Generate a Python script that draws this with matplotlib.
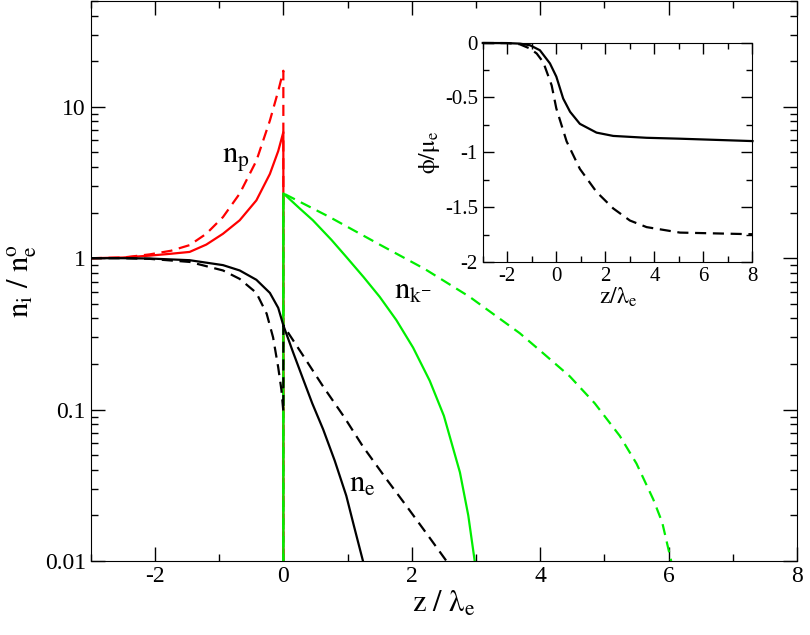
import matplotlib
matplotlib.use("Agg")
import matplotlib.pyplot as plt
from matplotlib.ticker import MultipleLocator, LogLocator, NullFormatter, FixedLocator

plt.rcParams['font.family'] = ['Liberation Serif', 'DejaVu Serif']
plt.rcParams['mathtext.fontset'] = 'stix'
plt.rcParams['axes.unicode_minus'] = False

# positive ions n_p (x <= 0), then drops to zero for x > 0
np_x_solid = [-3, -2.5, -2.08, -1.75, -1.46, -1.2, -0.94, -0.68, -0.42, -0.21, -0.08, 0, 0]
np_y_solid = [1.0, 1.01, 1.04, 1.07, 1.10, 1.23, 1.45, 1.78, 2.41, 3.6, 5.1, 6.8, 1e-4]
np_x_dash = [-3, -2.5, -2.08, -1.75, -1.46, -1.2, -0.94, -0.68, -0.42, -0.21, -0.08, 0, 0]
np_y_dash = [1.0, 1.01, 1.06, 1.12, 1.22, 1.45, 1.87, 2.67, 4.4, 8.1, 12.7, 17.3, 1e-4]

# electrons n_e
ne_x_solid = [-3, -2.5, -2.08, -1.46, -0.94, -0.68, -0.42, -0.21, -0.08, 0,
              0.15, 0.31, 0.45, 0.62, 0.8, 0.98, 1.1, 1.24]
ne_y_solid = [1.0, 1.0, 0.995, 0.97, 0.90, 0.83, 0.72, 0.59, 0.47, 0.36,
              0.24, 0.158, 0.11, 0.074, 0.046, 0.027, 0.017, 0.01]
ne_x_dash = [-3, -2.5, -2.08, -1.46, -0.94, -0.68, -0.42, -0.26, -0.16, -0.08, -0.03, 0,
             0, 0.3, 0.62, 0.95, 1.24, 1.6, 1.92, 2.25, 2.54]
ne_y_dash = [1.0, 1.0, 0.99, 0.945, 0.83, 0.73, 0.59, 0.43, 0.30, 0.19, 0.135, 0.097,
             0.36, 0.23, 0.142, 0.089, 0.057, 0.035, 0.023, 0.0148, 0.01]

# negative ions n_k- (zero for x < 0)
nk_x_solid = [0, 0, 0.25, 0.46, 0.75, 0.98, 1.25, 1.5, 1.76, 2.02, 2.28, 2.5, 2.75, 2.88, 2.98]
nk_y_solid = [1e-4, 2.68, 2.14, 1.78, 1.32, 1.02, 0.75, 0.556, 0.39, 0.257, 0.155, 0.091, 0.0385, 0.02, 0.01]
nk_x_dash = [0, 0, 0.72, 1.5, 2.2, 2.9, 3.68, 4.0, 4.46, 4.85, 5.24, 5.5, 5.76, 5.9, 6.04]
nk_y_dash = [1e-4, 2.68, 1.87, 1.23, 0.85, 0.556, 0.32, 0.245, 0.166, 0.11, 0.067, 0.044, 0.0256, 0.018, 0.01]

# inset: potential phi / mu_e
phi_x_solid = [-3, -2, -1.48, -1.07, -0.67, -0.26, 0, 0.28, 0.56, 0.96, 1.64, 2.32, 3.68, 5, 6.5, 8]
phi_y_solid = [-0.004, -0.005, -0.01, -0.025, -0.07, -0.19, -0.31, -0.51, -0.63, -0.74, -0.82, -0.85,
               -0.867, -0.875, -0.886, -0.897]
phi_x_dash = [-3, -2, -1.5, -1.07, -0.8, -0.53, -0.19, 0, 0.42, 0.96, 1.64, 2.32, 3.0, 3.68, 5.04, 8]
phi_y_dash = [-0.004, -0.005, -0.015, -0.055, -0.10, -0.18, -0.39, -0.6, -0.9, -1.15, -1.36, -1.51, -1.62,
              -1.68, -1.73, -1.745]

lw = 1.6
dash = (0, (5, 3))

fig = plt.figure(figsize=(8.1, 6.35), dpi=100)
ax = fig.add_axes([0.112, 0.1165, 0.872, 0.882])

ax.plot(np_x_solid, np_y_solid, color='red', lw=lw)
ax.plot(np_x_dash, np_y_dash, color='red', lw=lw, linestyle=dash)
ax.plot(nk_x_solid, nk_y_solid, color='#00ee00', lw=lw)
ax.plot(nk_x_dash, nk_y_dash, color='#00ee00', lw=lw, linestyle=dash)
ax.plot(ne_x_solid, ne_y_solid, color='black', lw=lw)
ax.plot(ne_x_dash, ne_y_dash, color='black', lw=lw, linestyle=dash)

ax.set_yscale('log')
ax.set_xlim(-3, 8)
ax.set_ylim(0.01, 50)
ax.xaxis.set_major_locator(MultipleLocator(2))
ax.xaxis.set_minor_locator(MultipleLocator(1))
ax.yaxis.set_major_locator(FixedLocator([0.01, 0.1, 1, 10]))
ax.yaxis.set_minor_locator(LogLocator(base=10, subs=range(2, 10)))
ax.yaxis.set_minor_formatter(NullFormatter())
ax.set_yticklabels(['0.01', '0.1', '1', '10'])
ax.tick_params(which='both', direction='in', top=True, right=True, labelsize=17)
ax.tick_params(which='major', length=10, width=1)
ax.tick_params(which='minor', length=5, width=1)
ax.set_xlabel(r'$\mathrm{z\ /\ \lambda_e}$', fontsize=22, labelpad=2)
ax.set_ylabel(r'$\mathrm{n_i\ /\ n_e^o}$', fontsize=22, labelpad=4)

ax.text(-0.95, 4.5, r'$\mathrm{n_p}$', fontsize=22, va='center')
ax.text(1.72, 0.6, r'$\mathrm{n_{k^{-}}}$', fontsize=22, va='center')
ax.text(1.02, 0.032, r'$\mathrm{n_e}$', fontsize=22, va='center')

ins = fig.add_axes([0.596, 0.587, 0.333, 0.346])
ins.plot(phi_x_solid, phi_y_solid, color='black', lw=lw, clip_on=False)
ins.plot(phi_x_dash, phi_y_dash, color='black', lw=lw, linestyle=dash, clip_on=False)
ins.set_xlim(-3, 8)
ins.set_ylim(-2, 0)
ins.xaxis.set_minor_locator(MultipleLocator(1))
ins.yaxis.set_minor_locator(MultipleLocator(0.25))
ins.set_yticks([0, -0.5, -1, -1.5, -2])
ins.set_yticklabels(['0', '-0.5', '-1', '-1.5', '-2'])
ins.set_xticks([-2, 0, 2, 4, 6, 8])
ins.set_xticklabels(['-2', '0', '2', '4', '6', '8'])
ins.tick_params(which='both', direction='in', top=True, right=True, labelsize=15)
ins.tick_params(which='major', length=8, width=1)
ins.tick_params(which='minor', length=4, width=1)
ins.set_xlabel(r'$\mathrm{z/\lambda_e}$', fontsize=17, labelpad=0)
ins.set_ylabel(r'$\mathrm{\phi/\mu_e}$', fontsize=17, labelpad=2)

fig.savefig('out.png', dpi=100)
